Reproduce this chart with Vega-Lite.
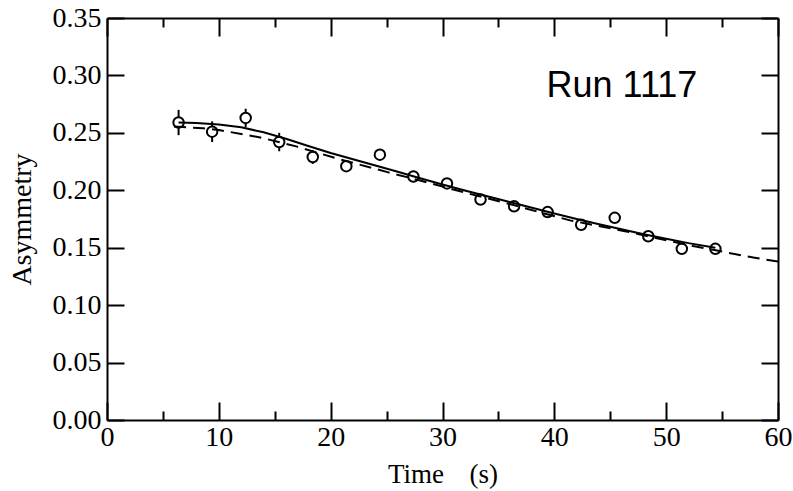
{
  "$schema": "https://vega.github.io/schema/vega-lite/v6.json",
  "width": 671,
  "height": 402,
  "autosize": "none",
  "padding": {"left": 107, "top": 18, "right": 15, "bottom": 71},
  "background": "white",
  "config": {
    "view": {"stroke": null},
    "axis": {
      "domainColor": "black", "domainWidth": 2, "tickColor": "black", "tickWidth": 2,
      "labelFont": "Liberation Serif", "labelFontSize": 28, "labelColor": "black",
      "titleFont": "Liberation Serif", "titleFontSize": 27, "titleFontWeight": "normal", "titleColor": "black",
      "grid": false
    }
  },
  "datasets": {
    "pts": [
      {"t": 6.4, "a": 0.259, "lo": 0.248, "hi": 0.270},
      {"t": 9.4, "a": 0.251, "lo": 0.242, "hi": 0.260},
      {"t": 12.4, "a": 0.263, "lo": 0.255, "hi": 0.271},
      {"t": 15.4, "a": 0.242, "lo": 0.234, "hi": 0.250},
      {"t": 18.4, "a": 0.229, "lo": 0.223, "hi": 0.235},
      {"t": 21.4, "a": 0.221, "lo": 0.216, "hi": 0.226},
      {"t": 24.4, "a": 0.231, "lo": 0.226, "hi": 0.236},
      {"t": 27.4, "a": 0.212, "lo": 0.207, "hi": 0.217},
      {"t": 30.4, "a": 0.206, "lo": 0.202, "hi": 0.210},
      {"t": 33.4, "a": 0.192, "lo": 0.188, "hi": 0.196},
      {"t": 36.4, "a": 0.186, "lo": 0.182, "hi": 0.190},
      {"t": 39.4, "a": 0.181, "lo": 0.177, "hi": 0.185},
      {"t": 42.4, "a": 0.170, "lo": 0.166, "hi": 0.174},
      {"t": 45.4, "a": 0.176, "lo": 0.172, "hi": 0.180},
      {"t": 48.4, "a": 0.160, "lo": 0.156, "hi": 0.164},
      {"t": 51.4, "a": 0.149, "lo": 0.145, "hi": 0.153},
      {"t": 54.4, "a": 0.149, "lo": 0.145, "hi": 0.153}
    ],
    "solid": [
      {"t": 6.4, "a": 0.259}, {"t": 8, "a": 0.2585}, {"t": 10, "a": 0.2572}, {"t": 12, "a": 0.2548},
      {"t": 14, "a": 0.2505}, {"t": 16, "a": 0.2448}, {"t": 18, "a": 0.2385}, {"t": 20, "a": 0.2325},
      {"t": 22, "a": 0.2270}, {"t": 24, "a": 0.2216}, {"t": 26, "a": 0.2162}, {"t": 28, "a": 0.2105},
      {"t": 30, "a": 0.2050}, {"t": 32, "a": 0.1998}, {"t": 34, "a": 0.1948}, {"t": 36, "a": 0.1898},
      {"t": 38, "a": 0.1848}, {"t": 40, "a": 0.1798}, {"t": 42, "a": 0.1750}, {"t": 44, "a": 0.1705},
      {"t": 46, "a": 0.1660}, {"t": 48, "a": 0.1618}, {"t": 50, "a": 0.1578}, {"t": 52, "a": 0.1540},
      {"t": 54.4, "a": 0.1500}
    ],
    "dashed": [
      {"t": 6.0, "a": 0.2555}, {"t": 8.6, "a": 0.254}, {"t": 10, "a": 0.2525}, {"t": 13.7, "a": 0.246},
      {"t": 17, "a": 0.238}, {"t": 20.8, "a": 0.227}, {"t": 25, "a": 0.216}, {"t": 28, "a": 0.2085},
      {"t": 32.2, "a": 0.1975}, {"t": 36, "a": 0.188}, {"t": 41.4, "a": 0.1738}, {"t": 46.2, "a": 0.1646},
      {"t": 52.4, "a": 0.1515}, {"t": 57.8, "a": 0.1414}, {"t": 60, "a": 0.138}
    ],
    "label": [{"t": 39.3, "a": 0.2813, "text": "Run 1117"}]
  },
  "layer": [
    {
      "data": {"name": "pts"},
      "mark": {"type": "rule", "color": "black", "strokeWidth": 2},
      "encoding": {
        "x": {"field": "t", "type": "quantitative", "scale": {"domain": [0, 60], "nice": false},
          "axis": {"orient": "bottom", "title": "Time\u00a0\u00a0\u00a0\u2009(s)", "values": [0, 5, 10, 15, 20, 25, 30, 35, 40, 45, 50, 55, 60],
            "labelExpr": "datum.value % 10 === 0 ? datum.label : ''",
            "tickSize": {"expr": "datum.value % 10 === 0 ? -18 : -9"},
            "labelPadding": 21, "titlePadding": 10, "labelFlush": false, "titleColor": "black"}},
        "y": {"field": "lo", "type": "quantitative", "scale": {"domain": [0, 0.35], "nice": false},
          "axis": {"orient": "left", "title": "Asymmetry", "titleFontSize": 28, "titleColor": "black", "values": [0, 0.05, 0.1, 0.15, 0.2, 0.25, 0.3, 0.35],
            "format": ".2f", "tickSize": -17, "labelPadding": 23, "titlePadding": 16, "labelFlush": false}},
        "y2": {"field": "hi"}
      }
    },
    {
      "data": {"name": "pts"},
      "mark": {"type": "point", "shape": "circle", "filled": false, "color": "black", "fill": "white", "fillOpacity": 1, "strokeWidth": 2, "size": 110, "opacity": 1},
      "encoding": {
        "x": {"field": "t", "type": "quantitative",
          "axis": {"orient": "top", "title": null, "labels": false, "values": [0, 5, 10, 15, 20, 25, 30, 35, 40, 45, 50, 55, 60],
            "tickSize": {"expr": "datum.value % 10 === 0 ? -18 : -9"}}},
        "y": {"field": "a", "type": "quantitative",
          "axis": {"orient": "right", "title": null, "labels": false, "values": [0, 0.05, 0.1, 0.15, 0.2, 0.25, 0.3, 0.35], "tickSize": -17}}
      }
    },
    {
      "data": {"name": "dashed"},
      "mark": {"type": "line", "color": "black", "strokeWidth": 2, "strokeDash": [12, 7], "clip": true},
      "encoding": {
        "x": {"field": "t", "type": "quantitative", "axis": null},
        "y": {"field": "a", "type": "quantitative", "axis": null}
      }
    },
    {
      "data": {"name": "solid"},
      "mark": {"type": "line", "color": "black", "strokeWidth": 2},
      "encoding": {
        "x": {"field": "t", "type": "quantitative", "axis": null},
        "y": {"field": "a", "type": "quantitative", "axis": null}
      }
    },
    {
      "data": {"name": "label"},
      "mark": {"type": "text", "font": "Liberation Sans", "fontSize": 36, "align": "left", "baseline": "alphabetic", "color": "black"},
      "encoding": {
        "x": {"field": "t", "type": "quantitative", "axis": null},
        "y": {"field": "a", "type": "quantitative", "axis": null},
        "text": {"field": "text"}
      }
    }
  ]
}
